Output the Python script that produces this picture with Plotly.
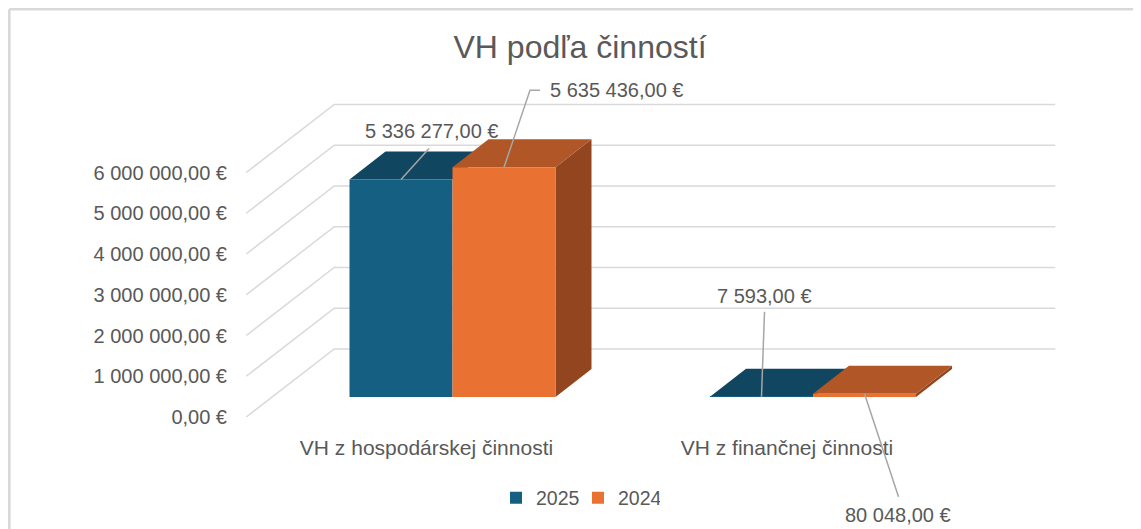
import plotly.graph_objects as go

# ---------------- data ----------------
categories = ["VH z hospodárskej činnosti", "VH z finančnej činnosti"]
series_names = ["2025", "2024"]
values_2025 = [5336277.00, 7593.00]
values_2024 = [5635436.00, 80048.00]
tick_values = [0, 1000000, 2000000, 3000000, 4000000, 5000000, 6000000]
title_text = "VH podľa činností"


def eur(v):
    return f"{v:,.2f}".replace(",", " ").replace(".", ",") + " €"


tick_labels = [eur(t) for t in tick_values]

# ---------------- geometry / style ----------------
PAGE = 8                      # body margin of the html page
W, H = 1141 - PAGE, 529 - PAGE


def fx(px):                   # window pixel -> figure pixel
    return px - PAGE


PX_X = 360.5                  # pixels per category unit
PX_V = 40.75e-6               # pixels per value unit
X0_PX = fx(452.5)             # pixel column of category 0 (bar front plane)
V0_PX = fx(397.0)             # pixel row of value 0 (bar front plane)

x_range = [-X0_PX / PX_X, (W - X0_PX) / PX_X]
y_range = [(V0_PX - H) / PX_V, V0_PX / PX_V]


def off(dx_px, dy_px_up):
    return dx_px / PX_X, dy_px_up / PX_V


FRONT = off(-26, -20)   # axis/floor front plane relative to bar front
BACK = off(62, 48)      # back wall relative to bar front
DEPTH = off(36, 28)     # bar depth

BAR_W = 103 / PX_X
offsets = [-BAR_W, 0.0]
front_cols = ["#156082", "#E97132"]
top_cols = ["#10465F", "#B15627"]
side_cols = ["#0D3A50", "#934520"]
grid_col = "#D9D9D9"
txt_col = "#595959"
lead_col = "#A6A6A6"
FONT = "Liberation Sans, Arial, sans-serif"

fig = go.Figure()
all_vals = [values_2025, values_2024]
for name, vals, offv, col in zip(series_names, all_vals, offsets, front_cols):
    fig.add_trace(go.Bar(
        x=list(range(len(categories))), y=vals, name=name,
        width=BAR_W, offset=offv, marker=dict(color=col, line=dict(width=0)),
        hoverinfo="skip",
    ))

# dummy trace for the secondary (shifted) axes that carry tick labels
fig.add_trace(go.Scatter(x=[None], y=[None], xaxis="x2", yaxis="y2",
                         showlegend=False, hoverinfo="skip"))

shapes = []
# gridlines: left wall diagonals + back wall horizontals
xl, xr = -0.5, len(categories) - 0.5
for t in tick_values:
    shapes.append(dict(
        type="path", xref="x", yref="y", layer="below",
        path=f"M {xl + FRONT[0]},{t + FRONT[1]} L {xl + BACK[0]},{t + BACK[1]} "
             f"L {xr + BACK[0]},{t + BACK[1]}",
        line=dict(color=grid_col, width=1.5),
    ))

# 3D faces (tops and right side of the right-most series)
for c in range(len(categories)):
    for s, vals in enumerate(all_vals):
        v = vals[c]
        x0 = c + offsets[s]
        x1 = x0 + BAR_W
        dx, dv = DEPTH
        if s == len(all_vals) - 1:
            shapes.append(dict(
                type="path", xref="x", yref="y", layer="below",
                path=f"M {x1},0 L {x1},{v} L {x1 + dx},{v + dv} L {x1 + dx},{dv} Z",
                fillcolor=side_cols[s], line=dict(width=0),
            ))
        shapes.append(dict(
            type="path", xref="x", yref="y", layer="below",
            path=f"M {x0},{v} L {x1},{v} L {x1 + dx},{v + dv} L {x0 + dx},{v + dv} Z",
            fillcolor=top_cols[s], line=dict(width=0),
        ))

# data labels with leader lines (offsets in pixels from bar top-front centre)
label_layout = [
    # (series, category, leader path, xshift, yshift, xanchor)
    (0, 0, "M 0,0 L 28,31", 30, 49, "center"),
    (1, 0, "M 0,0 L 26,77 L 36,77", 44, 77, "left"),
    (0, 1, "M 0,0 L 3,85", 3, 101, "center"),
    (1, 1, "M 0,0 L 34,-103", 33, -121, "center"),
]
annotations = []
for s, c, lpath, xs, ys, xa in label_layout:
    v = all_vals[s][c]
    xc = c + offsets[s] + BAR_W / 2
    shapes.append(dict(
        type="path", xref="x", yref="y", xsizemode="pixel", ysizemode="pixel",
        xanchor=xc, yanchor=v, path=lpath, layer="above",
        line=dict(color=lead_col, width=1.5),
    ))
    annotations.append(dict(
        x=xc, y=v, xref="x", yref="y", text=eur(v), showarrow=False,
        xshift=xs, yshift=ys, xanchor=xa, yanchor="middle",
        font=dict(family=FONT, size=20, color=txt_col),
    ))

# chart frame (top and left edge visible)
shapes.append(dict(type="line", xref="paper", yref="paper",
                   x0=1.3 / W, x1=1.0, y0=1 - 1.3 / H, y1=1 - 1.3 / H,
                   line=dict(color=grid_col, width=2.6)))
shapes.append(dict(type="line", xref="paper", yref="paper",
                   x0=1.3 / W, x1=1.3 / W, y0=0, y1=1 - 1.3 / H,
                   line=dict(color=grid_col, width=2.6)))

fig.update_layout(
    width=W, height=H,
    margin=dict(l=0, r=0, t=0, b=0, pad=0),
    paper_bgcolor="white", plot_bgcolor="white",
    barmode="overlay",
    showlegend=True,
    title=dict(text=title_text, x=fx(580) / W, xanchor="center",
               y=1 - fx(47) / H, yanchor="middle",
               font=dict(family=FONT, size=32, color=txt_col)),
    xaxis=dict(range=x_range, visible=False, fixedrange=True),
    yaxis=dict(range=y_range, visible=False, fixedrange=True),
    xaxis2=dict(range=[x_range[0] - FRONT[0], x_range[1] - FRONT[0]],
                overlaying="x", anchor="free", position=1 - fx(417) / H,
                tickmode="array", tickvals=list(range(len(categories))),
                ticktext=categories, ticks="", showgrid=False, showline=False,
                zeroline=False, ticklabelstandoff=16,
                tickfont=dict(family=FONT, size=21, color=txt_col)),
    yaxis2=dict(range=[y_range[0] - FRONT[1], y_range[1] - FRONT[1]],
                overlaying="y", anchor="free", position=fx(245) / W, side="left",
                tickmode="array", tickvals=tick_values, ticktext=tick_labels,
                ticks="", showgrid=False, showline=False, zeroline=False,
                ticklabelstandoff=18,
                tickfont=dict(family=FONT, size=20, color=txt_col)),
    legend=dict(orientation="h", x=fx(578) / W, xanchor="center",
                y=1 - fx(498) / H, yanchor="middle",
                entrywidth=37, entrywidthmode="pixels",
                font=dict(family=FONT, size=19.5, color=txt_col),
                bgcolor="rgba(0,0,0,0)"),
    shapes=shapes,
    annotations=annotations,
)

fig.write_html("out.html")
